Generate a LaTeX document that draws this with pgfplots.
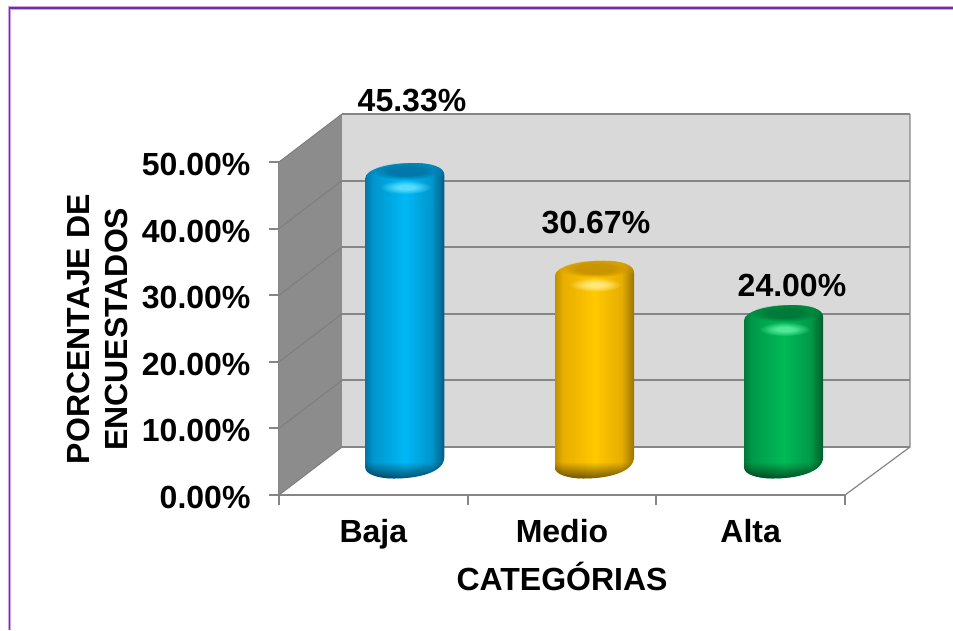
\documentclass[border=0pt]{standalone}
\usepackage{fontspec}
\setmainfont{Liberation Sans}
\usepackage{pgfplots}
\pgfplotsset{compat=1.18}
\usetikzlibrary{fadings}
\definecolor{gridc}{HTML}{868686}
\definecolor{wallside}{HTML}{8C8C8C}
\definecolor{wallback}{HTML}{D9D9D9}
\pgfdeclareverticalshading{fadeBotS}{100bp}{color(0bp)=(white); color(25bp)=(white); color(62bp)=(black); color(100bp)=(black)}
\pgfdeclarefading{fadeBot}{\pgfuseshading{fadeBotS}}
\pgfdeclareverticalshading{fadeTopS}{100bp}{color(0bp)=(black); color(42bp)=(black); color(75bp)=(white); color(100bp)=(white)}
\pgfdeclarefading{fadeTop}{\pgfuseshading{fadeTopS}}
\pgfdeclareradialshading{softS}{\pgfpoint{0bp}{0bp}}{color(0bp)=(white); color(8bp)=(white); color(25bp)=(black); color(50bp)=(black)}
\pgfdeclarefading{soft}{\pgfuseshading{softS}}
\pgfdeclareradialshading{plateauS}{\pgfpoint{0bp}{0bp}}{color(0bp)=(white); color(13bp)=(white); color(25bp)=(black); color(50bp)=(black)}
\pgfdeclarefading{plateau}{\pgfuseshading{plateauS}}
\newcommand{\cylshade}[5]{%
 \pgfdeclarehorizontalshading{#1}{100bp}{color(0bp)=(#2); color(25bp)=(#2); color(30bp)=(#3); color(50bp)=(#4); color(67bp)=(#3); color(75bp)=(#5); color(100bp)=(#5)}}
\definecolor{bA}{HTML}{0078A8}\definecolor{bB}{HTML}{0096CC}\definecolor{bC}{HTML}{00B8F6}\definecolor{bD}{HTML}{005C86}
\definecolor{bIn}{HTML}{0079AA}\definecolor{bRim}{HTML}{0088BC}\definecolor{bHi}{HTML}{55DCFF}
\definecolor{yA}{HTML}{C09000}\definecolor{yB}{HTML}{E8AE00}\definecolor{yC}{HTML}{FFC800}\definecolor{yD}{HTML}{9C7400}
\definecolor{yIn}{HTML}{C89400}\definecolor{yRim}{HTML}{D8A200}\definecolor{yHi}{HTML}{FFE878}
\definecolor{gA}{HTML}{007A38}\definecolor{gB}{HTML}{009A48}\definecolor{gC}{HTML}{00BA58}\definecolor{gD}{HTML}{005C2A}
\definecolor{gIn}{HTML}{007A38}\definecolor{gRim}{HTML}{008A40}\definecolor{gHi}{HTML}{50E898}
\cylshade{bluebody}{bA}{bB}{bC}{bD}
\cylshade{yellowbody}{yA}{yB}{yC}{yD}
\cylshade{greenbody}{gA}{gB}{gC}{gD}
\newcommand{\cylmarks}[5]{%
 \pgfdeclareplotmark{#1}{%
  \pgfmathsetmacro{\H}{\hv*6.66}%
  % whole cylinder as one path, its height taken from the value of the point
  \path[draw=none,fill=none,shading=#2] (-39.5pt,-9pt) .. controls (-39.5pt,0pt) and (-15pt,6pt) .. (9pt,6pt)
     .. controls (27pt,6pt) and (39.5pt,2pt) .. (39.5pt,-6pt)
     -- (39.5pt,{(14-\H)*1pt}) .. controls (39.5pt,{(-2-\H)*1pt}) and (12pt,{(-7.5-\H)*1pt}) .. (-11pt,{(-7.5-\H)*1pt})
     .. controls (-27pt,{(-7.5-\H)*1pt}) and (-39.5pt,{(-3-\H)*1pt}) .. (-39.5pt,{(3-\H)*1pt}) -- cycle;
  \fill[draw=none,#3,path fading=fadeTop] (-39.5pt,-15pt) -- (-39.5pt,-9pt) .. controls (-39.5pt,0pt) and (-15pt,6pt) .. (9pt,6pt)
     .. controls (27pt,6pt) and (39.5pt,2pt) .. (39.5pt,-6pt) -- (39.5pt,-15pt) -- cycle;
  \fill[draw=none,#4,rotate=5,path fading=plateau] (1pt,-2pt) ellipse (34pt and 9pt);
  \fill[draw=none,#5,path fading=soft] (1pt,-18pt) ellipse (26pt and 7pt);
  \fill[draw=none,black,path fading=fadeBot,fill opacity=.55] (-39.5pt,{(15-\H)*1pt}) -- (-39.5pt,{(3-\H)*1pt})
     .. controls (-39.5pt,{(-3-\H)*1pt}) and (-27pt,{(-7.5-\H)*1pt}) .. (-11pt,{(-7.5-\H)*1pt})
     .. controls (12pt,{(-7.5-\H)*1pt}) and (39.5pt,{(-2-\H)*1pt}) .. (39.5pt,{(15-\H)*1pt}) -- cycle;
 }}
\cylmarks{bc}{bluebody}{bRim}{bIn}{bHi}
\cylmarks{yc}{yellowbody}{yRim}{yIn}{yHi}
\cylmarks{gc}{greenbody}{gRim}{gIn}{gHi}
\newcommand{\lblfont}{\bfseries\fontsize{32}{38}\selectfont}
\newcommand{\cyl}[4]{%
 \addplot[only marks,scatter,point meta=y,mark=#4,xshift=#3,yshift=24pt,
   scatter/use mapped color={draw=none,fill=none},
   visualization depends on={value \thisrow{y} \as \hv}]
   table[row sep=\\,x=x,y=y]{x y\\ #1 #2\\};
}
\begin{document}
\begin{tikzpicture}[x=1pt,y=1pt]
\useasboundingbox (0,0) rectangle (953,630);
\fill[white] (0,0) rectangle (953,630);
\draw[color={rgb,255:red,205;green,165;blue,228},line width=3.6pt] (9.5,0) -- (9.5,622) -- (953,622);
\draw[color={rgb,255:red,112;green,48;blue,160},line width=1.8pt] (9.5,0) -- (9.5,622) -- (953,622);
\begin{axis}[
  at={(279pt,135pt)},anchor=south west,
  scale only axis,width=566pt,height=333pt,
  xmin=0,xmax=3,ymin=0,ymax=50,clip=false,
  axis x line*=bottom,axis y line*=left,
  axis line style={draw=gridc,line width=2pt,-},
  tick style={draw=gridc,line width=2pt},
  tick align=outside,
  major tick length=10pt,minor tick length=10pt,
  xtick={0.5,1.5,2.5},xticklabels={Baja,Medio,Alta},
  minor xtick={0,1,2,3},
  major x tick style={draw=none},
  ytick={0,10,20,30,40,50},
  yticklabels={0.00\%,10.00\%,20.00\%,30.00\%,40.00\%,50.00\%},
  tick label style={font=\lblfont,text=black},
  yticklabel style={anchor=east,xshift=-15pt,yshift=-2.5pt},
  xticklabel style={anchor=base,yshift=-37pt},
  xlabel={CATEG\'ORIAS},ylabel={PORCENTAJE DE\\ENCUESTADOS},
  every axis x label/.style={at={(axis description cs:0.5,-0.246)},anchor=center,font=\lblfont},
  every axis y label/.style={at={(axis description cs:-0.32,0.498)},anchor=center,rotate=90,align=center,font=\lblfont},
]
\fill[wallside] (axis cs:0,0) -- (axis cs:0,50) -- ([shift={(63pt,48pt)}]axis cs:0,50) -- ([shift={(63pt,48pt)}]axis cs:0,0) -- cycle;
\fill[wallback] ([shift={(63pt,48pt)}]axis cs:0,0) rectangle ([shift={(65pt,48pt)}]axis cs:3,50);
\pgfplotsinvokeforeach{0,10,20,30,40,50}{
  \draw[color=wallside!90!black,line width=1pt] (axis cs:0,#1) -- ([shift={(63pt,48pt)}]axis cs:0,#1);
  \draw[gridc,line width=2pt] ([shift={(63pt,48pt)}]axis cs:0,#1) -- ([shift={(65pt,48pt)}]axis cs:3,#1);
}
\draw[gridc,line width=1.2pt] ([shift={(65pt,48pt)}]axis cs:3,50) -- ([shift={(65pt,48pt)}]axis cs:3,0) -- (axis cs:3,0);
\cyl{0.5}{45.33}{31.5pt}{bc}
\cyl{1.5}{30.67}{32.5pt}{yc}
\cyl{2.5}{24.00}{33pt}{gc}
\node[font=\lblfont] at (axis cs:0.705,59.3) {45.33\%};
\node[font=\lblfont] at (axis cs:1.68,40.9) {30.67\%};
\node[font=\lblfont] at (axis cs:2.719,31.53) {24.00\%};
\end{axis}
\end{tikzpicture}
\end{document}
